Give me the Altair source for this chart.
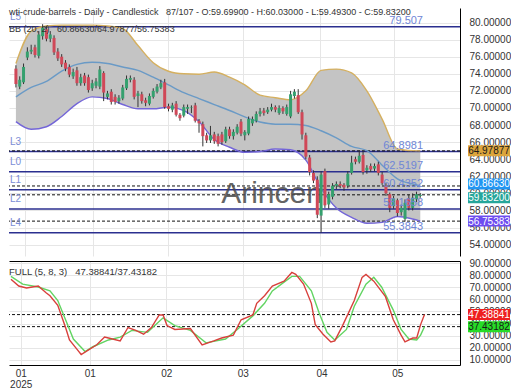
import altair as alt
import pandas as pd

FONT = "Liberation Sans, Arial, sans-serif"

# ---------------- candle data ----------------
opens = [74.6, 72.5, 73.0, 75.9, 76.6, 77.1, 76.1, 78.4, 79.2, 78.1,
         78.2, 76.6, 76.0, 75.3, 74.8, 73.7, 74.4, 72.9, 73.8, 73.6,
         72.3, 72.6, 72.5, 74.1, 71.3, 71.9, 71.3, 70.8, 71.1, 72.3,
         73.3, 73.3, 71.4, 71.6, 70.9, 70.5, 71.3, 71.9, 72.4, 73.0,
         70.2, 69.8, 70.5, 69.2, 69.1, 69.9, 70.0, 70.3, 68.5, 68.1,
         66.8, 66.2, 66.9, 66.7, 66.9, 66.1, 67.5, 66.7, 67.1, 68.4,
         66.8, 67.0, 68.2, 68.5, 69.3, 69.7, 69.5, 69.8, 70.1, 69.4,
         70.0, 69.3, 69.0, 71.4, 71.5, 69.5, 66.8, 64.2, 62.4, 61.6,
         57.4, 62.6, 58.7, 59.6, 60.9, 61.1, 61.0, 60.9, 62.4, 64.0,
         63.7, 64.5, 62.7, 63.2, 62.9, 63.4, 62.2, 60.9, 59.9, 58.5,
         59.2, 57.8, 57.0, 59.4, 58.3, 59.3, 59.699]
closes = [72.8, 73.3, 74.8, 76.6, 76.8, 76.2, 78.6, 79.4, 78.1, 78.6,
          76.5, 75.8, 75.1, 74.6, 73.9, 74.2, 72.9, 73.6, 72.9, 72.1,
          72.9, 73.1, 74.5, 71.8, 71.7, 70.7, 70.7, 71.2, 72.4, 73.4,
          73.5, 71.3, 71.7, 70.8, 70.6, 71.4, 72.0, 72.5, 72.9, 70.1,
          69.9, 70.3, 69.2, 68.8, 70.1, 70.1, 70.05, 68.5, 68.2, 66.7,
          66.2, 66.8, 66.1, 65.8, 66.0, 67.5, 66.7, 67.2, 67.8, 67.0,
          67.2, 68.7, 68.7, 69.3, 69.6, 69.4, 69.8, 70.1, 69.8, 70.0,
          69.6, 70.1, 71.6, 71.9, 69.5, 66.9, 64.3, 62.5, 61.5, 57.5,
          62.2, 58.6, 59.9, 60.9, 61.1, 60.9, 60.7, 62.3, 63.6, 63.7,
          64.4, 62.5, 63.0, 62.8, 63.2, 62.4, 61.2, 60.0, 58.3, 59.4,
          57.7, 58.3, 58.9, 58.3, 59.5, 59.9, 59.832]
highs = [75.0, 73.7, 75.2, 77.1, 77.4, 77.4, 79.0, 79.8, 79.6, 79.0,
         78.5, 77.0, 76.3, 75.6, 75.1, 74.6, 74.8, 74.0, 74.1, 73.9,
         73.3, 73.5, 74.9, 74.3, 72.0, 72.2, 71.6, 71.5, 72.7, 73.8,
         73.8, 73.6, 72.0, 71.9, 71.2, 71.7, 72.3, 72.8, 73.3, 73.4,
         70.5, 70.6, 70.8, 69.4, 70.4, 70.4, 70.3, 70.6, 68.7, 68.4,
         67.1, 67.9, 67.2, 67.0, 67.2, 67.8, 67.8, 67.5, 68.1, 68.7,
         67.4, 69.0, 69.0, 69.6, 70.0, 70.0, 70.1, 70.5, 70.3, 70.3,
         70.2, 70.4, 72.0, 72.2, 72.2, 69.8, 67.1, 64.5, 62.7, 62.0,
         62.6, 62.9, 60.2, 61.2, 61.4, 61.4, 61.2, 62.6, 64.4, 64.3,
         65.0, 64.9, 63.3, 63.5, 63.5, 63.7, 62.5, 61.2, 60.1, 59.7,
         59.4, 58.7, 59.3, 59.9, 60.0, 60.2, 60.03]
lows = [72.4, 72.2, 72.8, 75.6, 76.3, 75.9, 75.8, 78.0, 77.8, 77.7,
        76.2, 75.5, 74.8, 74.3, 73.6, 73.4, 72.6, 72.6, 72.6, 71.8,
        72.0, 72.3, 72.2, 70.8, 71.0, 70.4, 70.4, 70.5, 70.9, 72.1,
        73.0, 71.0, 70.1, 70.5, 70.2, 70.3, 71.1, 71.7, 72.2, 69.9,
        69.6, 69.5, 69.0, 68.5, 68.9, 69.3, 69.4, 68.3, 67.1, 65.5,
        65.9, 65.9, 65.8, 65.5, 65.7, 65.9, 66.4, 66.3, 66.9, 66.7,
        66.2, 66.8, 67.9, 68.3, 69.0, 69.1, 69.3, 69.6, 69.5, 69.2,
        69.3, 69.1, 68.8, 71.1, 69.3, 66.3, 64.0, 62.1, 61.2, 57.1,
        55.4, 58.3, 58.2, 59.3, 60.5, 60.6, 60.3, 60.6, 62.2, 63.4,
        63.5, 62.2, 62.3, 62.5, 62.6, 62.1, 61.0, 59.7, 57.8, 58.2,
        57.3, 57.4, 56.7, 58.0, 58.0, 59.0, 59.493]

# ---------------- Bollinger band (20, 2) ----------------
bb_idx = [0, 4, 8, 12, 16, 20, 24, 28, 32, 36, 40, 44, 48, 52,
          56, 60, 64, 68, 72, 76, 80, 84, 88, 92, 96, 100, 104, 106]
bb_upper = [75.2, 79.0, 79.6, 79.7, 79.7, 79.7, 79.6, 79.3, 77.3, 75.3,
            74.3, 74.0, 73.95, 74.2, 73.6, 72.7, 71.5, 71.2, 70.95, 72.0,
            74.4, 74.55, 74.1, 72.0, 68.7, 65.2, 65.0, 64.98]
bb_mid = [71.3, 72.4, 73.1, 74.3, 75.1, 75.35, 75.2, 74.8, 74.4, 73.6,
          72.7, 71.8, 71.1, 70.4, 69.7, 68.95, 68.35, 68.1, 68.1, 67.95,
          67.33, 66.5, 65.5, 65.0, 63.3, 61.7, 61.1, 60.87]
bb_lower = [68.4, 67.5, 67.8, 69.0, 70.5, 71.3, 71.1, 70.4, 69.9, 69.9,
            70.1, 69.7, 68.4, 66.3, 65.4, 64.8, 64.9, 65.2, 65.1, 63.9,
            60.6, 58.3, 57.2, 56.5, 56.6, 57.3, 57.0, 56.75]

# ---------------- horizontal levels ----------------
level_names = ["L5", "L3", "L0", "L1", "L2", "L4"]
level_values = [79.507, 64.8981, 62.5197, 60.4352, 58.1658, 55.3843]
level_texts = ["79.507", "64.8981", "62.5197", "60.4352", "58.1658", "55.3843"]

# price markers on the right axis
marker_values = [64.97877, 60.86630, 59.83200, 56.75383]
marker_texts = ["64.97877", "60.86630", "59.83200", "56.75383"]
marker_fill = ["#dca53c", "#2196f3", "#26a69a", "#6d4cf0"]
marker_text_color = ["#1a1a1a", "#ffffff", "#ffffff", "#ffffff"]
marker_shift = [0, -2, 3, 0]

# ---------------- stochastic FULL (5, 8, 3) ----------------
k_idx = [0, 2, 4, 7, 9, 10, 12, 14, 15, 17, 18, 20, 22, 24, 25, 28, 30, 32,
         34, 36, 38, 39, 40, 42, 46, 49, 52, 54, 57, 59, 62, 63, 65, 67, 70,
         72, 73, 75, 77, 78, 80, 82, 83, 85, 88, 90, 91, 93, 96, 98, 100,
         101, 103, 104, 105, 106]
k_val = [76.6, 71.0, 69.4, 71.0, 65.4, 63.0, 55.1, 36.7, 26.4, 18.4, 14.4,
         18.4, 22.4, 28.8, 28.0, 25.6, 36.7, 34.3, 31.2, 36.7, 47.1, 47.1,
         38.3, 35.1, 35.9, 22.4, 25.6, 28.0, 30.4, 43.1, 47.1, 56.7, 63.0,
         71.0, 75.0, 82.2, 80.6, 72.6, 56.7, 39.1, 31.2, 24.8, 25.6, 38.3,
         59.0, 78.2, 80.6, 75.0, 62.2, 43.1, 30.4, 24.8, 28.0, 28.0, 39.1,
         47.38841]
d_idx = [0, 3, 7, 10, 12, 14, 16, 19, 21, 25, 28, 31, 35, 39, 42, 46, 50,
         55, 58, 62, 65, 67, 70, 72, 74, 77, 79, 81, 83, 86, 88, 91, 93, 95,
         98, 100, 102, 104, 105, 106]
d_val = [79.0, 72.6, 70.2, 67.0, 59.0, 43.1, 27.2, 16.8, 20.8, 26.4, 28.8,
         34.3, 32.7, 44.7, 38.3, 34.3, 24.0, 27.2, 35.1, 46.3, 56.7, 67.0,
         74.2, 79.0, 79.0, 67.0, 48.7, 32.7, 26.4, 35.1, 54.3, 72.6, 78.2,
         70.2, 51.1, 35.1, 27.2, 26.4, 30.4, 37.43182]
st_marker_values = [47.38841, 37.43182]
st_marker_texts = ["47.38841", "37.43182"]
st_marker_fill = ["#ee1f1f", "#27dc27"]
st_marker_text_color = ["#ffffff", "#1a1a1a"]

# x-axis ticks
month_ticks = [2.5, 20.2, 39.8, 59.4, 79.6, 99.0]
month_labels = ["01\n2025", "01", "02", "03", "04", "05"]

NB = "\u00a0\u00a0\u00a0"
title_text = ("wti-crude-barrels - Daily - Candlestick" + NB +
              "87/107 - O:59.69900 - H:60.03000 - L:59.49300 - C:59.83200")
bb_text = "BB (20, 2)" + NB + "60.86630/64.97877/56.75383"
st_text = "FULL (5, 8, 3)" + NB + "47.38841/37.43182"
watermark = "Arincen"

# ---------------- build tables ----------------
n = len(opens)
candles = pd.DataFrame({"i": list(range(n)), "open": opens, "close": closes,
                        "high": highs, "low": lows})
candles["dir"] = ["up" if c >= o else "down" for o, c in zip(opens, closes)]
bb = pd.DataFrame({"i": bb_idx, "upper": bb_upper, "mid": bb_mid, "lower": bb_lower})
levels = pd.DataFrame({"name": level_names, "value": level_values, "text": level_texts})
markers = pd.DataFrame({"value": marker_values, "text": marker_texts,
                        "fill": marker_fill, "tc": marker_text_color})
kdf = pd.DataFrame({"i": k_idx, "v": k_val})
ddf = pd.DataFrame({"i": d_idx, "v": d_val})
smarkers = pd.DataFrame({"value": st_marker_values, "text": st_marker_texts,
                         "fill": st_marker_fill, "tc": st_marker_text_color})

W, H1, H2 = 451, 248, 104
GRID = "#e6e6e6"
xs = alt.Scale(domain=[-0.5, 115.1], nice=False, zero=False)
ys = alt.Scale(domain=[52.67, 81.7], nice=False, zero=False)
ss = alt.Scale(domain=[5.7, 91.7], nice=False, zero=False)
BOX = "M-21,-5.5L21,-5.5L21,5.5L-21,5.5Z"
BOX_X = 480
TXT = 10

X_MAIN_AX = alt.Axis(values=month_ticks, grid=True, gridColor=GRID, labels=False,
                     ticks=False, domain=False, title=None)
Y_MAIN_AX = alt.Axis(orient="right", values=list(range(54, 82, 2)), format=".5f",
                     grid=True, gridColor=GRID, ticks=False, labelPadding=9,
                     domain=True, domainColor="#000000", title=None, zindex=0)
Y_ST_AX = alt.Axis(orient="right", values=list(range(10, 100, 10)), format=".5f",
                   grid=True, gridColor=GRID, ticks=False, labelPadding=9,
                   domain=True, domainColor="#000000", title=None, zindex=0)


def label_expr(vals, labs):
    parts = []
    for v, lab in zip(vals, labs):
        if "\n" in lab:
            s = "[" + ",".join("'%s'" % p for p in lab.split("\n")) + "]"
        else:
            s = "'%s'" % lab
        parts.append("datum.value == %s ? %s : " % (v, s))
    return "".join(parts) + "''"


X_ST_AX = alt.Axis(values=month_ticks, labelExpr=label_expr(month_ticks, month_labels),
                   grid=True, gridColor=GRID, ticks=False, domain=True, domainColor="#000000",
                   labelPadding=3, labelLineHeight=11, title=None)
X_ST_TOP = alt.Axis(orient="top", labels=False, ticks=False, grid=False, domain=True,
                    domainColor="#000000", title=None)


def text_at(txt, x, y, **kw):
    return alt.Chart(pd.DataFrame({"t": [txt]})).mark_text(**kw).encode(
        x=alt.value(x), y=alt.value(y), text="t:N")


def marker_layers(df, scale, axis, shifts):
    out = []
    for k in range(len(df)):
        row = df.iloc[[k]]
        sh = shifts[k]
        out.append(alt.Chart(row).mark_point(shape=BOX, size=4, filled=True, opacity=1,
                                             yOffset=sh).encode(
            x=alt.value(BOX_X), y=alt.Y("value:Q", scale=scale, axis=axis),
            color=alt.Color("fill:N", scale=None)))
        out.append(alt.Chart(row).mark_text(fontSize=TXT, font=FONT, align="center",
                                            baseline="middle", yOffset=sh + 0.5).encode(
            x=alt.value(BOX_X), y=alt.Y("value:Q", scale=scale, axis=axis),
            text="text:N", color=alt.Color("tc:N", scale=None)))
    return out


# ---------------- main price panel ----------------
band = alt.Chart(bb).mark_area(color="#c4c4c4", interpolate="monotone").encode(
    x=alt.X("i:Q", scale=xs, axis=X_MAIN_AX),
    y=alt.Y("lower:Q", scale=ys, axis=Y_MAIN_AX),
    y2="upper:Q")

lvl = alt.Chart(levels).mark_rule(color="#2b2f8f", strokeWidth=1.5).encode(
    y=alt.Y("value:Q", scale=ys, axis=Y_MAIN_AX))
dashed = alt.Chart(markers).mark_rule(color="#111111", strokeDash=[3, 2], strokeWidth=1).encode(
    y=alt.Y("value:Q", scale=ys, axis=Y_MAIN_AX))


def bb_line(field, color):
    return alt.Chart(bb).mark_line(color=color, strokeWidth=1.4, interpolate="monotone").encode(
        x=alt.X("i:Q", scale=xs, axis=X_MAIN_AX),
        y=alt.Y(field + ":Q", scale=ys, axis=Y_MAIN_AX))


wicks = alt.Chart(candles).mark_rule(color="#333333", strokeWidth=1).encode(
    x=alt.X("i:Q", scale=xs, axis=X_MAIN_AX),
    y=alt.Y("low:Q", scale=ys, axis=Y_MAIN_AX), y2="high:Q")
bodies = alt.Chart(candles).mark_bar(size=3).encode(
    x=alt.X("i:Q", scale=xs, axis=X_MAIN_AX),
    y=alt.Y("open:Q", scale=ys, axis=Y_MAIN_AX), y2="close:Q",
    color=alt.Color("dir:N", scale=alt.Scale(domain=["up", "down"], range=["#35a06e", "#d04858"]),
                    legend=None))

left_lab = alt.Chart(levels).mark_text(align="left", dy=-10, fontSize=TXT, font=FONT,
                                       color="#7b8dd6").encode(
    x=alt.value(1), y=alt.Y("value:Q", scale=ys, axis=Y_MAIN_AX), text="name:N")
right_lab = alt.Chart(levels).mark_text(align="right", dy=-6, fontSize=TXT + 1, font=FONT,
                                        color="#6f86d6").encode(
    x=alt.value(414), y=alt.Y("value:Q", scale=ys, axis=Y_MAIN_AX), text="text:N")

main = alt.layer(
    band, lvl, dashed,
    bb_line("upper", "#d5b060"), bb_line("mid", "#6a9ac6"), bb_line("lower", "#7466d8"),
    text_at(watermark, 263, 195, fontSize=30, font="Liberation Sans", color="#4a4a4a",
            opacity=0.85, align="center", baseline="alphabetic"),
    wicks, bodies, left_lab, right_lab,
    text_at(title_text, 0, 4, fontSize=9, font=FONT, color="#333333", align="left",
            baseline="middle"),
    text_at(bb_text, 0, 21, fontSize=9, font=FONT, color="#333333", align="left",
            baseline="middle"),
    *marker_layers(markers, ys, Y_MAIN_AX, marker_shift),
).properties(width=W, height=H1)

# ---------------- stochastic panel ----------------
kline = alt.Chart(kdf).mark_line(color="#d8403c", strokeWidth=1.4).encode(
    x=alt.X("i:Q", scale=xs, axis=X_ST_AX),
    y=alt.Y("v:Q", scale=ss, axis=Y_ST_AX))
dline = alt.Chart(ddf).mark_line(color="#62d462", strokeWidth=1.4).encode(
    x=alt.X("i:Q", scale=xs, axis=X_ST_TOP),
    y=alt.Y("v:Q", scale=ss, axis=Y_ST_AX))
sdashed = alt.Chart(smarkers).mark_rule(color="#111111", strokeDash=[3, 2], strokeWidth=1).encode(
    y=alt.Y("value:Q", scale=ss, axis=Y_ST_AX))

stoch = alt.layer(
    sdashed, dline, kline,
    text_at(st_text, 0, 11, fontSize=9.5, font=FONT, color="#333333", align="left",
            baseline="middle"),
    *marker_layers(smarkers, ss, Y_ST_AX, [0, 0]),
).resolve_axis(x="independent").properties(width=W, height=H2)

chart = alt.vconcat(main, stoch, spacing=2).properties(padding=0).configure_view(
    stroke=None).configure_axis(labelFont=FONT, labelFontSize=10, labelColor="#333333")

chart.save("out.html", embed_options={"renderer": "svg", "actions": False})
